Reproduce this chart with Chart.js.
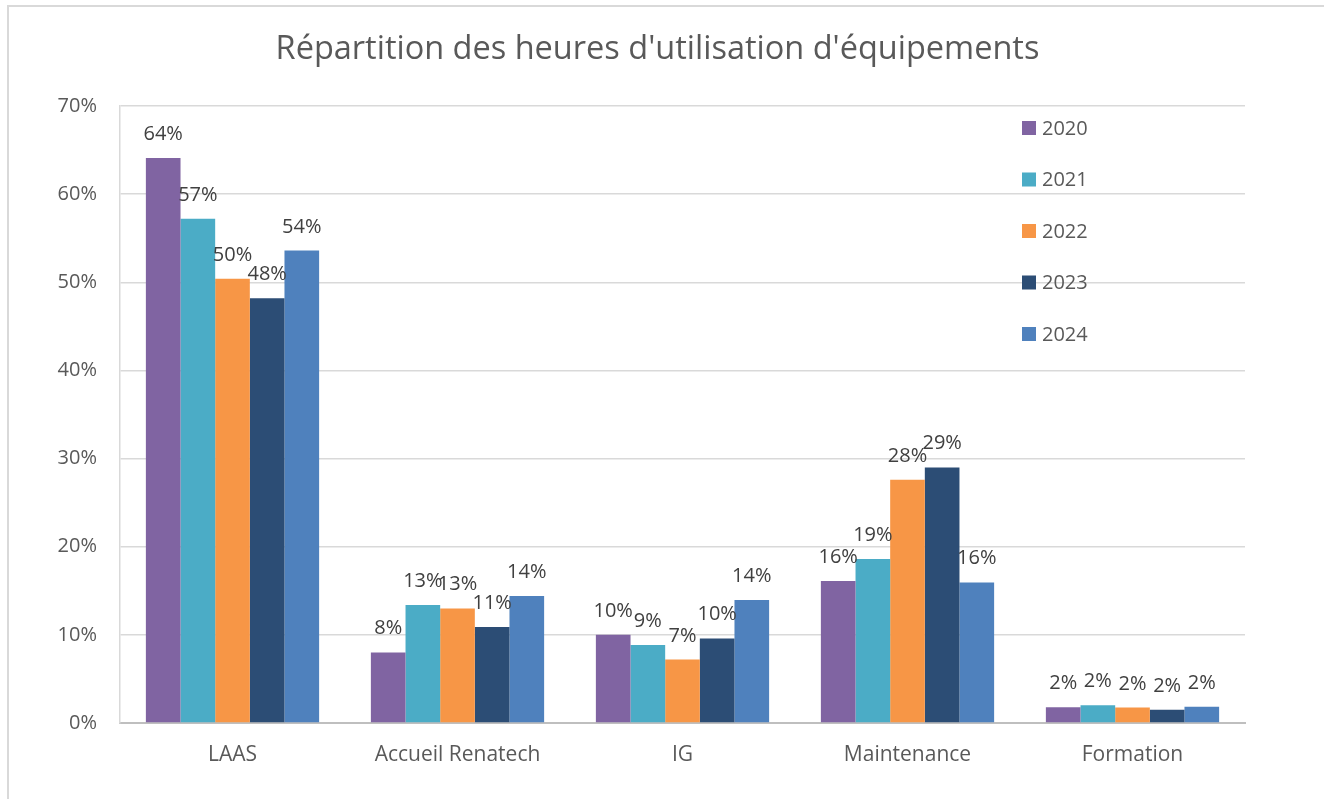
<!DOCTYPE html>
<html>
<head>
<meta charset="utf-8">
<script src="https://cdn.jsdelivr.net/npm/chart.js@4/dist/chart.umd.min.js"></script>
<style>
  html, body { margin: 0; padding: 0; background: #ffffff; }
  #wrap { position: relative; width: 1324px; height: 799px; }
</style>
</head>
<body>
<div id="wrap"><canvas id="c" width="1324" height="799"></canvas></div>
<script>
const categories = ['LAAS', 'Accueil Renatech', 'IG', 'Maintenance', 'Formation'];
const seriesNames = ['2020', '2021', '2022', '2023', '2024'];
const values2020 = [64.1, 8.0, 10.0, 16.1, 1.8];
const values2021 = [57.2, 13.4, 8.85, 18.6, 2.0];
const values2022 = [50.4, 13.0, 7.2, 27.6, 1.75];
const values2023 = [48.2, 10.9, 9.6, 29.0, 1.5];
const values2024 = [53.6, 14.4, 13.95, 15.95, 1.85];
const seriesColors = ['#8064A2', '#4BACC6', '#F79646', '#2C4D75', '#4F81BD'];
const yTickLabels = ['0%', '10%', '20%', '30%', '40%', '50%', '60%', '70%'];
const chartTitle = "Répartition des heures d'utilisation d'équipements";

const FONT = "'Open Sans', 'DejaVu Sans', sans-serif";
const allValues = [values2020, values2021, values2022, values2023, values2024];

const frameBorder = {
  id: 'frameBorder',
  beforeDraw(chart) {
    const ctx = chart.ctx;
    ctx.save();
    ctx.fillStyle = '#ffffff';
    ctx.fillRect(0, 0, chart.width, chart.height);
    ctx.strokeStyle = '#d9d9d9';
    ctx.lineWidth = 2;
    ctx.beginPath();
    ctx.moveTo(8, chart.height);
    ctx.lineTo(8, 6);
    ctx.lineTo(chart.width, 6);
    ctx.stroke();
    ctx.restore();
  }
};

const titleText = {
  id: 'titleText',
  afterDraw(chart) {
    const ctx = chart.ctx;
    ctx.save();
    ctx.font = '32.5px ' + FONT;
    ctx.fillStyle = '#595959';
    ctx.textAlign = 'center';
    ctx.textBaseline = 'alphabetic';
    ctx.fillText(chartTitle, 657.5, 58.5);
    ctx.restore();
  }
};

const dataLabels = {
  id: 'dataLabels',
  afterDatasetsDraw(chart) {
    const ctx = chart.ctx;
    ctx.save();
    ctx.font = '20px ' + FONT;
    ctx.fillStyle = '#404040';
    ctx.textAlign = 'center';
    ctx.textBaseline = 'alphabetic';
    chart.data.datasets.forEach((ds, i) => {
      const meta = chart.getDatasetMeta(i);
      meta.data.forEach((bar, j) => {
        ctx.fillText(Math.round(ds.data[j]) + '%', bar.x, bar.y - 18);
      });
    });
    ctx.restore();
  }
};

const sideLegend = {
  id: 'sideLegend',
  afterDraw(chart) {
    const ctx = chart.ctx;
    const area = chart.chartArea;
    ctx.save();
    ctx.font = '20px ' + FONT;
    ctx.textAlign = 'left';
    ctx.textBaseline = 'middle';
    chart.data.datasets.forEach((ds, i) => {
      const cy = area.top + 22 + i * 51.5;
      const x0 = area.right - 223;
      ctx.fillStyle = ds.backgroundColor;
      ctx.fillRect(x0, cy - 7, 14, 14);
      ctx.fillStyle = '#595959';
      ctx.fillText(ds.label, x0 + 20, cy + 1);
    });
    ctx.restore();
  }
};

new Chart(document.getElementById('c'), {
  type: 'bar',
  data: {
    labels: categories,
    datasets: seriesNames.map((n, i) => ({
      label: n,
      data: allValues[i],
      backgroundColor: seriesColors[i],
      borderWidth: 0,
      categoryPercentage: 0.77,
      barPercentage: 1.0
    }))
  },
  options: {
    responsive: false,
    animation: false,
    devicePixelRatio: 1,
    layout: { padding: { left: 0, right: 79, top: 106, bottom: 0 } },
    plugins: {
      legend: { display: false },
      tooltip: { enabled: false },
      title: { display: false }
    },
    scales: {
      x: {
        grid: { display: false },
        border: { display: true, color: '#bfbfbf', width: 2 },
        ticks: { color: '#595959', font: { family: FONT, size: 21 }, padding: 11, maxRotation: 0, autoSkip: false },
        afterFit(s) { s.height = 76; }
      },
      y: {
        min: 0,
        max: 70,
        grid: { color: '#d9d9d9', lineWidth: 1.5, drawTicks: false },
        border: { display: true, color: '#d9d9d9', width: 1.5 },
        ticks: {
          stepSize: 10,
          color: '#595959',
          font: { family: FONT, size: 20 },
          padding: 23,
          callback: (v) => yTickLabels[Math.round(v / 10)]
        },
        afterFit(s) { s.width = 120; }
      }
    }
  },
  plugins: [frameBorder, titleText, dataLabels, sideLegend]
});
</script>
</body>
</html>
